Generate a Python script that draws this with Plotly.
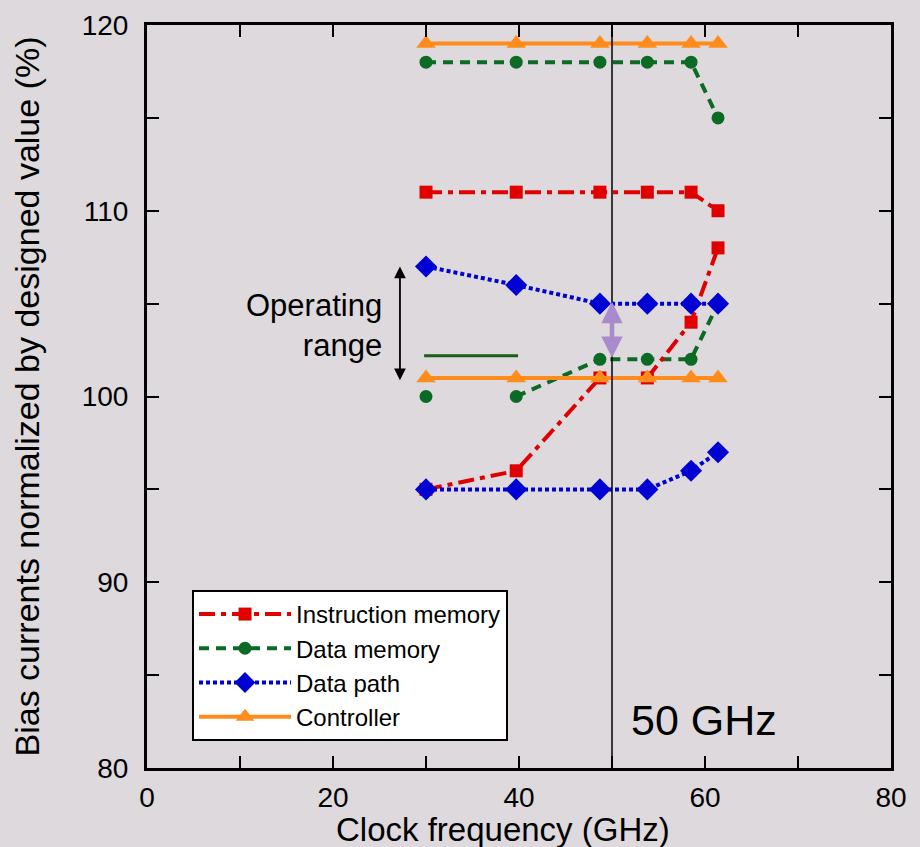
import plotly.graph_objects as go

# ---- data ----
freq = [30, 39.7, 48.7, 53.8, 58.5, 61.4]
im_upper = [111, 111, 111, 111, 111, 110]
im_lower = [95, 96, 101, 101, 104, 108]
dm_upper = [118, 118, 118, 118, 118, 115]
dm_lower = [100, 100, 102, 102, 102, 105]
dp_upper = [107, 106, 105, 105, 105, 105]
dp_lower = [95, 95, 95, 95, 96, 97]
ct_upper = [119, 119, 119, 119, 119, 119]
ct_lower = [101, 101, 101, 101, 101, 101]

x_ticks = [0, 10, 20, 30, 40, 50, 60, 70, 80]
x_labels = ["0", "", "20", "", "40", "", "60", "", "80"]
y_ticks = [80, 85, 90, 95, 100, 105, 110, 115, 120]
y_labels = ["80", "", "90", "", "100", "", "110", "", "120"]

FONT = "Arial, 'Liberation Sans', sans-serif"
BG = "#ddd9dd"
RED = "#e00000"
GREEN = "#0b6a23"
BLUE = "#0000d2"
ORANGE = "#ff8c1a"

fig = go.Figure()

series = [
    # name, color, dash, symbol, size, upper, lower, rank
    ("Data memory", GREEN, "10px,7px", "circle", 13, dm_upper, dm_lower, 2),
    ("Instruction memory", RED, "16px,6px,5px,6px", "square", 13, im_upper, im_lower, 1),
    ("Data path", BLUE, "4px,3px", "diamond", 17, dp_upper, dp_lower, 3),
    ("Controller", ORANGE, "solid", "triangle-up", 17, ct_upper, ct_lower, 4),
]

for name, col, dash, sym, sz, up, lo, rank in series:
    fig.add_trace(go.Scatter(
        x=freq, y=up, mode="lines+markers", name=name, legendgroup=name,
        legendrank=rank, showlegend=True,
        line=dict(color=col, width=4, dash=dash),
        marker=dict(symbol=sym, size=sz, color=col),
    ))
    if name == "Data memory":
        # first point is not connected to the rest
        fig.add_trace(go.Scatter(
            x=freq[:1], y=lo[:1], mode="markers", legendgroup=name, showlegend=False,
            marker=dict(symbol=sym, size=sz, color=col),
        ))
        fig.add_trace(go.Scatter(
            x=freq[1:], y=lo[1:], mode="lines+markers", legendgroup=name, showlegend=False,
            line=dict(color=col, width=4, dash=dash),
            marker=dict(symbol=sym, size=sz, color=col),
        ))
    else:
        fig.add_trace(go.Scatter(
            x=freq, y=lo, mode="lines+markers", legendgroup=name, showlegend=False,
            line=dict(color=col, width=4, dash=dash),
            marker=dict(symbol=sym, size=sz, color=col),
        ))

# vertical line at 50 GHz
fig.add_shape(type="line", x0=50, x1=50, y0=80, y1=120, xref="x", yref="y",
              line=dict(color="black", width=1.5), layer="above")
# green short solid line
fig.add_shape(type="line", x0=29.8, x1=39.9, y0=102.2, y1=102.2, xref="x", yref="y",
              line=dict(color="#1a5e1a", width=3))

# purple double arrow
fig.add_annotation(x=50, y=105.1, ax=50, ay=102.0, xref="x", yref="y", axref="x", ayref="y",
                   showarrow=True, arrowhead=2, startarrowhead=2, arrowside="end+start",
                   arrowsize=0.95, startarrowsize=0.95, arrowwidth=4.5, arrowcolor="#a98bcc", text="")
# black double arrow
fig.add_annotation(x=27.2, y=107.0, ax=27.2, ay=100.8, xref="x", yref="y", axref="x", ayref="y",
                   showarrow=True, arrowhead=2, startarrowhead=2, arrowside="end+start",
                   arrowsize=1.3, startarrowsize=1.3, arrowwidth=1.8, arrowcolor="black", text="")

fig.add_annotation(x=25.5, y=103.8, xref="x", yref="y", text="Operating<br>range",
                   showarrow=False, xanchor="right", yanchor="middle", align="right",
                   font=dict(family=FONT, size=31, color="black"))

fig.add_annotation(x=51.8, y=82.6, xref="x", yref="y", text="50 GHz",
                   showarrow=False, xanchor="left", yanchor="middle",
                   font=dict(family=FONT, size=43, color="black"))

# x-axis title (placed slightly left of centre, as in the reference)
fig.add_annotation(x=0.4785, y=-0.083, xref="paper", yref="paper", text="Clock frequency (GHz)",
                   showarrow=False, xanchor="center", yanchor="middle",
                   font=dict(family=FONT, size=33, color="black"))

axis_common = dict(
    showline=True, linecolor="black", linewidth=3, mirror="ticks",
    ticks="inside", ticklen=12, tickwidth=2, tickcolor="black",
    showgrid=False, zeroline=False, automargin=False,
    tickfont=dict(family=FONT, size=28, color="black"),
)

fig.update_xaxes(range=[0, 80], tickmode="array", tickvals=x_ticks, ticktext=x_labels,
                 ticklabelstandoff=2, **axis_common)
fig.update_yaxes(range=[80, 120], tickmode="array", tickvals=y_ticks, ticktext=y_labels,
                 title_text="Bias currents normalized by designed value (%)", title_standoff=32,
                 title_font=dict(family=FONT, size=34, color="black"),
                 ticklabelstandoff=10, **axis_common)

fig.update_layout(
    width=920, height=847,
    margin=dict(l=147, r=29, t=25, b=79),
    paper_bgcolor=BG, plot_bgcolor=BG,
    font=dict(family=FONT, color="black"),
    legend=dict(x=0.0605, y=0.2396, xanchor="left", yanchor="top",
                bgcolor="white", bordercolor="black", borderwidth=2,
                font=dict(family=FONT, size=24, color="black"),
                tracegroupgap=0, itemwidth=92),
    showlegend=True,
)

fig.write_html("out.html")
